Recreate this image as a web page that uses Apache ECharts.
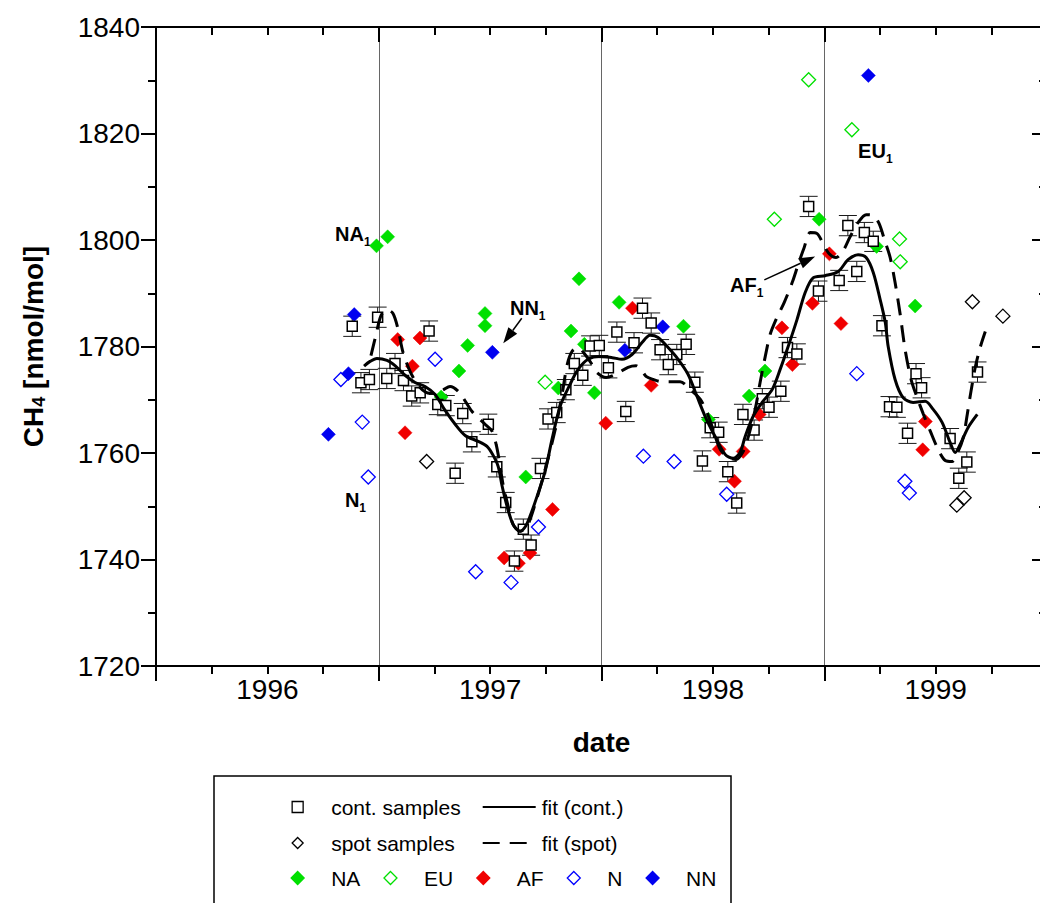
<!DOCTYPE html>
<html><head><meta charset="utf-8">
<script src="https://cdn.jsdelivr.net/npm/echarts@6/dist/echarts.min.js"></script>
<style>html,body{margin:0;padding:0;background:#fff}#c{width:1040px;height:903px}</style>
</head><body><div id="c"></div>
<script>
const X_TICK_LABELS = [1996, 1997, 1998, 1999];

const CONT_X = [1996.381,1996.420,1996.458,1996.495,1996.536,1996.573,1996.611,1996.648,1996.686,1996.726,
  1996.765,1996.801,1996.843,1996.877,1996.918,1996.992,1997.030,1997.070,1997.109,1997.149,
  1997.184,1997.226,1997.260,1997.299,1997.340,1997.378,1997.416,1997.449,1997.490,1997.531,
  1997.569,1997.609,1997.646,1997.684,1997.723,1997.763,1997.800,1997.838,1997.880,1997.919,
  1997.953,1997.988,1998.026,1998.067,1998.107,1998.135,1998.185,1998.222,1998.252,1998.305,
  1998.335,1998.377,1998.430,1998.474,1998.567,1998.606,1998.646,1998.680,1998.720,1998.759,
  1998.793,1998.826,1998.874,1998.912,1998.937,1999.065,1999.104,1999.140,1999.188];
const CONT_Y = [1783.8,1773.2,1773.8,1785.5,1774.0,1776.8,1773.6,1770.7,1771.3,1782.9,
  1769.1,1768.9,1756.2,1767.4,1762.1,1765.4,1757.4,1750.7,1739.7,1745.7,
  1742.7,1757.1,1766.4,1767.6,1771.9,1776.8,1774.6,1780.1,1780.2,1776.0,
  1782.7,1767.8,1780.7,1787.2,1784.4,1779.4,1776.6,1778.5,1780.4,1773.3,
  1758.5,1764.75,1763.9,1756.5,1750.6,1767.25,1764.3,1770.2,1768.6,1771.6,
  1779.8,1778.6,1806.3,1790.4,1792.4,1802.7,1794.1,1801.4,1799.75,1783.9,
  1768.7,1768.6,1763.7,1774.9,1772.25,1762.7,1755.25,1758.3,1775.2];
const CONT_ERR = [1.9,1.9,1.9,1.9,1.9,1.9,1.9,1.9,1.9,1.9,
  1.9,1.9,1.9,1.9,1.9,1.9,1.9,1.9,1.9,1.9,
  1.9,1.9,1.9,1.9,1.9,1.9,1.9,1.9,1.9,1.9,
  1.9,1.9,1.9,1.9,1.9,1.9,1.9,1.9,1.9,1.9,
  1.9,1.9,1.9,1.9,1.9,1.9,1.9,1.9,1.9,1.9,
  1.9,1.9,1.9,1.9,1.9,1.9,1.9,1.9,1.9,1.9,
  1.9,1.9,1.9,1.9,1.9,1.9,1.9,1.9,1.9];

const SPOT = [[1996.715,1758.4],[1999.095,1750.2],[1999.128,1751.6],[1999.165,1788.4],[1999.302,1785.7]];
const NA = [[1996.490,1798.9],[1996.540,1800.6],[1996.780,1770.5],[1996.860,1775.4],[1996.899,1780.2],
  [1996.977,1783.9],[1996.977,1786.2],[1997.160,1755.5],[1997.306,1772.2],[1997.363,1782.9],
  [1997.399,1792.7],[1997.423,1780.4],[1997.468,1771.3],[1997.579,1788.3],[1997.868,1783.8],
  [1997.980,1766.3],[1998.163,1770.7],[1998.234,1775.4],[1998.477,1803.9],[1998.735,1798.8],[1998.908,1787.6]];
const EU = [[1997.247,1773.3],[1998.276,1803.9],[1998.430,1830.1],[1998.624,1820.7],[1998.838,1800.2],[1998.841,1795.9]];
const AF = [[1996.585,1781.3],[1996.618,1763.8],[1996.651,1776.3],[1996.685,1781.6],[1997.063,1740.3],
  [1997.127,1739.3],[1997.179,1741.2],[1997.280,1749.4],[1997.519,1765.6],[1997.639,1787.2],
  [1997.723,1772.7],[1998.028,1760.7],[1998.097,1754.7],[1998.136,1760.3],[1998.208,1767.25],
  [1998.310,1783.5],[1998.357,1776.6],[1998.447,1788.1],[1998.523,1797.4],[1998.575,1784.3],
  [1998.942,1760.6],[1998.954,1765.9]];
const N = [[1996.330,1773.8],[1996.426,1765.8],[1996.453,1755.5],[1996.753,1777.6],[1996.935,1737.7],
  [1997.094,1735.7],[1997.217,1746.1],[1997.688,1759.4],[1997.826,1758.4],[1998.062,1752.25],
  [1998.646,1774.9],[1998.862,1754.7],[1998.882,1752.5]];
const NN = [[1996.274,1763.5],[1996.364,1774.9],[1996.390,1786.0],[1997.010,1778.9],[1997.605,1779.3],
  [1997.775,1783.7],[1998.698,1830.9]];

const FIT_CONT_X = [1996.434,1996.461,1996.492,1996.537,1996.573,1996.618,1996.663,1996.708,1996.753,1996.798,
  1996.843,1996.888,1996.946,1996.986,1997.013,1997.036,1997.054,1997.076,1997.103,1997.134,
  1997.157,1997.179,1997.211,1997.247,1997.278,1997.314,1997.359,1997.395,1997.440,1997.494,
  1997.548,1997.592,1997.637,1997.682,1997.718,1997.754,1997.799,1997.844,1997.889,1997.929,
  1997.965,1998.010,1998.055,1998.091,1998.122,1998.145,1998.181,1998.221,1998.266,1998.302,
  1998.338,1998.378,1998.414,1998.450,1998.504,1998.563,1998.607,1998.652,1998.688,1998.720,
  1998.751,1998.774,1998.787,1998.818,1998.854,1998.899,1998.953,1998.989,1999.029,1999.065,
  1999.088,1999.110,1999.146,1999.187];
const FIT_CONT_Y = [1776.3,1777.2,1777.75,1777.4,1776.4,1774.6,1773.25,1772.5,1771.0,1768.0,
  1765.4,1763.3,1762.2,1761.25,1759.6,1757.5,1753.75,1750.0,1746.6,1745.3,
  1746.1,1748.1,1751.9,1756.6,1762.6,1768.75,1772.9,1775.7,1777.6,1778.1,
  1777.9,1777.6,1778.5,1780.75,1782.1,1781.7,1779.8,1777.6,1774.75,1770.6,
  1766.9,1763.1,1759.75,1759.0,1760.1,1763.1,1766.9,1769.5,1771.9,1775.7,
  1780.0,1785.1,1790.1,1792.9,1793.3,1794.1,1796.3,1797.25,1796.7,1793.9,
  1788.8,1784.5,1780.0,1773.8,1770.4,1769.5,1769.7,1768.2,1765.75,1762.0,
  1760.1,1761.6,1764.8,1767.25];

const FIT_SPOT_X = [1996.465,1996.488,1996.510,1996.537,1996.564,1996.587,1996.609,1996.641,1996.685,1996.730,
  1996.784,1996.820,1996.861,1996.919,1996.977,1997.009,1997.027,1997.040,1997.058,1997.081,
  1997.103,1997.134,1997.166,1997.202,1997.247,1997.292,1997.323,1997.346,1997.368,1997.395,
  1997.426,1997.458,1997.480,1997.521,1997.570,1997.619,1997.655,1997.678,1997.700,1997.732,
  1997.772,1997.808,1997.853,1997.898,1997.943,1997.974,1998.001,1998.033,1998.068,1998.104,
  1998.136,1998.158,1998.190,1998.212,1998.235,1998.257,1998.284,1998.320,1998.356,1998.383,
  1998.410,1998.437,1998.468,1998.495,1998.522,1998.553,1998.585,1998.616,1998.652,1998.688,
  1998.720,1998.746,1998.773,1998.796,1998.818,1998.841,1998.863,1998.890,1998.917,1998.944,
  1998.976,1999.011,1999.043,1999.074,1999.101,1999.124,1999.142,1999.160,1999.178,1999.200,1999.223];
const FIT_SPOT_Y = [1778.3,1782.25,1785.8,1786.9,1786.2,1783.2,1778.9,1775.3,1772.3,1771.2,
  1771.75,1772.5,1771.4,1767.8,1765.4,1764.1,1761.6,1758.8,1754.1,1750.0,
  1746.6,1745.3,1746.25,1750.4,1756.9,1764.4,1771.0,1776.6,1779.1,1779.8,
  1778.5,1776.6,1775.1,1774.2,1774.9,1776.1,1776.4,1775.7,1774.4,1773.8,
  1773.4,1773.4,1773.4,1771.9,1770.1,1767.6,1764.4,1760.7,1759.2,1758.8,
  1760.3,1762.9,1768.2,1773.25,1778.1,1782.25,1785.1,1788.25,1792.0,1795.4,
  1798.6,1801.4,1801.2,1799.3,1797.4,1796.7,1798.0,1800.6,1803.25,1804.75,
  1804.6,1803.1,1799.7,1796.7,1792.0,1786.0,1779.4,1773.8,1770.4,1767.4,
  1764.1,1760.7,1758.6,1758.4,1760.3,1762.9,1767.25,1771.9,1776.1,1779.8,1782.8];

const NOTE_TEXT = ['NA', 'NN', 'N', 'AF', 'EU'];
const NOTE_POS = [[1996.304,1801.2],[1997.089,1787.3],[1996.348,1751.1],[1998.077,1791.6],[1998.652,1816.8]];
const ARROWS = [[1997.142,1785.3,1997.059,1780.6],[1998.231,1792.5,1998.459,1796.9]];

const FONT = "'Liberation Sans', Arial, Helvetica, sans-serif";
const zip = (xs, ys) => xs.map((x, i) => [x, ys[i]]);

function renderErr(params, api) {
  const x = api.value(0), y = api.value(1), e = api.value(2);
  const t = api.coord([x, y + e]), b = api.coord([x, y - e]);
  const hw = 9, st = {stroke: '#1a1a1a', lineWidth: 1};
  return {type: 'group', children: [
    {type: 'line', shape: {x1: t[0], y1: t[1], x2: b[0], y2: b[1]}, style: st},
    {type: 'line', shape: {x1: t[0] - hw, y1: t[1], x2: t[0] + hw, y2: t[1]}, style: st},
    {type: 'line', shape: {x1: b[0] - hw, y1: b[1], x2: b[0] + hw, y2: b[1]}, style: st}
  ]};
}
function renderArrow(params, api) {
  const p1 = api.coord([api.value(0), api.value(1)]);
  const p2 = api.coord([api.value(2), api.value(3)]);
  const dx = p2[0] - p1[0], dy = p2[1] - p1[1], L = Math.hypot(dx, dy);
  const ux = dx / L, uy = dy / L, hl = 16, hw = 5.5;
  const bx = p2[0] - ux * hl, by = p2[1] - uy * hl;
  return {type: 'group', children: [
    {type: 'line', shape: {x1: p1[0], y1: p1[1], x2: bx, y2: by}, style: {stroke: '#000', lineWidth: 1.5}},
    {type: 'polygon', shape: {points: [[p2[0], p2[1]], [bx - uy * hw, by + ux * hw], [bx + uy * hw, by - ux * hw]]}, style: {fill: '#000'}}
  ]};
}
function renderNote(params, api) {
  const p = api.coord([api.value(0), api.value(1)]);
  return {type: 'text', x: p[0], y: p[1], style: {
    text: '{m|' + NOTE_TEXT[params.dataIndex] + '}{s|1}',
    align: 'left', verticalAlign: 'middle',
    rich: {
      m: {fontSize: 20, fontWeight: 'bold', fontFamily: FONT, fill: '#000', lineHeight: 28},
      s: {fontSize: 12, fontWeight: 'bold', fontFamily: FONT, fill: '#000', lineHeight: 12, verticalAlign: 'bottom'}
    }
  }};
}

const chart = echarts.init(document.getElementById('c'), null, {renderer: 'svg', width: 1040, height: 903});
const axisLine = {show: true, lineStyle: {color: '#000', width: 2}};
const legendText = (pad) => ({fontSize: 21, lineHeight: 21, color: '#000', fontFamily: FONT, padding: [0, 0, 0, pad]});
const diamond = (color, hollow) => ({
  type: 'scatter', symbol: 'diamond', symbolSize: 14,
  itemStyle: {color: hollow ? '#fff' : color, borderColor: color, borderWidth: hollow ? 1.3 : 0.5, opacity: 1}
});

const option = {
  animation: false,
  backgroundColor: '#fff',
  textStyle: {fontFamily: FONT},
  grid: {left: 156, top: 27, width: 891, height: 639, containLabel: false, outerBoundsMode: 'none'},
  xAxis: [
    {type: 'value', position: 'bottom', min: 1995.5, max: 1999.5, interval: 1,
     axisLine: axisLine,
     axisTick: {show: true, length: 15, lineStyle: {color: '#000', width: 2}},
     minorTick: {show: true, splitNumber: 4, length: 8, lineStyle: {color: '#000', width: 2}},
     axisLabel: {show: false},
     splitLine: {show: true, lineStyle: {color: '#666', width: 1}},
     name: 'date', nameLocation: 'middle', nameGap: 62,
     nameTextStyle: {fontSize: 28, fontWeight: 'bold', color: '#000', fontFamily: FONT}},
    {type: 'value', position: 'bottom', min: 1995.5, max: 1999.5, interval: 0.5,
     axisLine: {show: false}, axisTick: {show: false}, splitLine: {show: false},
     axisLabel: {show: true, fontSize: 28, color: '#000', fontFamily: FONT, margin: 9,
       formatter: v => X_TICK_LABELS.indexOf(Math.round(v * 100) / 100) >= 0 ? String(Math.round(v)) : ''}},
    {type: 'value', position: 'top', min: 1995.5, max: 1999.5, interval: 1,
     axisLine: axisLine,
     axisTick: {show: true, inside: true, length: 15, lineStyle: {color: '#000', width: 2}},
     minorTick: {show: true, splitNumber: 4, length: 8, lineStyle: {color: '#000', width: 2}},
     axisLabel: {show: false}, splitLine: {show: false}}
  ],
  yAxis: [
    {type: 'value', position: 'left', min: 1720, max: 1840, interval: 20,
     axisLine: axisLine,
     axisTick: {show: true, length: 15, lineStyle: {color: '#000', width: 2}},
     minorTick: {show: true, splitNumber: 2, length: 8, lineStyle: {color: '#000', width: 2}},
     axisLabel: {fontSize: 28, color: '#000', fontFamily: FONT, margin: 16, formatter: v => String(v)},
     splitLine: {show: false},
     name: '{m|CH}{s|4}{m| [nmol/mol]}', nameLocation: 'middle', nameRotate: 90, nameGap: 108,
     nameTextStyle: {rich: {
       m: {fontSize: 28, fontWeight: 'bold', fontFamily: FONT, color: '#000', lineHeight: 30},
       s: {fontSize: 18, fontWeight: 'bold', fontFamily: FONT, color: '#000', lineHeight: 14, verticalAlign: 'bottom'}
     }}},
    {type: 'value', position: 'right', min: 1720, max: 1840, interval: 20,
     axisLine: axisLine,
     axisTick: {show: true, inside: true, length: 15, lineStyle: {color: '#000', width: 2}},
     minorTick: {show: true, splitNumber: 2, length: 8, lineStyle: {color: '#000', width: 2}},
     axisLabel: {show: false}, splitLine: {show: false}}
  ],
  legend: [
    {data: ['cont. samples', 'spot samples'], orient: 'vertical', left: 291.5, top: 796.5,
     itemWidth: 11, itemHeight: 11, itemGap: 15, padding: 0, selectedMode: false, textStyle: legendText(23),
     itemStyle: {borderWidth: 1.3}},
    {data: ['fit (cont.)', 'fit (spot)'], orient: 'vertical', left: 481.7, top: 796.5,
     itemWidth: 53, itemHeight: 12, itemGap: 15, padding: 0, selectedMode: false, textStyle: legendText(1),
     itemStyle: {color: 'rgba(0,0,0,0)', borderWidth: 0, opacity: 0}},
    {data: ['NA', 'EU', 'AF', 'N', 'NN'], orient: 'horizontal', left: 290.5, top: 867.5,
     itemWidth: 13, itemHeight: 13, itemGap: 23, padding: 0, selectedMode: false, textStyle: legendText(22),
     itemStyle: {borderWidth: 1.3}}
  ],
  graphic: [
    {type: 'rect', shape: {x: 214, y: 776, width: 517, height: 160},
     style: {fill: 'none', stroke: '#000', lineWidth: 1.5}, silent: true}
  ],
  series: [
    Object.assign(diamond('#00e000', false), {name: 'NA', data: NA}),
    Object.assign(diamond('#00e000', true), {name: 'EU', data: EU}),
    Object.assign(diamond('#f00000', false), {name: 'AF', data: AF}),
    Object.assign(diamond('#0000ff', true), {name: 'N', data: N}),
    Object.assign(diamond('#0000f0', false), {name: 'NN', data: NN}),
    Object.assign(diamond('#000000', true), {name: 'spot samples', data: SPOT}),
    {type: 'line', name: 'fit (cont.)', data: zip(FIT_CONT_X, FIT_CONT_Y), showSymbol: false, symbol: 'none',
     smooth: 0.3, itemStyle: {color: '#000'}, lineStyle: {color: '#000', width: 3}},
    {type: 'line', name: 'fit (spot)', data: zip(FIT_SPOT_X, FIT_SPOT_Y), showSymbol: false, symbol: 'none',
     smooth: 0.3, itemStyle: {color: '#000'}, lineStyle: {color: '#000', width: 3, type: [17, 10]}},
    {type: 'custom', name: 'errors', renderItem: renderErr, silent: true,
     data: CONT_X.map((x, i) => [x, CONT_Y[i], CONT_ERR[i]]), encode: {x: 0, y: 1}},
    {type: 'scatter', name: 'cont. samples', symbol: 'rect', symbolSize: 10,
     data: zip(CONT_X, CONT_Y),
     itemStyle: {color: '#fff', borderColor: '#000', borderWidth: 1.5, opacity: 1}},
    {type: 'custom', name: 'arrows', renderItem: renderArrow, silent: true,
     data: ARROWS, encode: {x: [0, 2], y: [1, 3]}},
    {type: 'custom', name: 'notes', renderItem: renderNote, silent: true,
     data: NOTE_POS, encode: {x: 0, y: 1}}
  ]
};
chart.setOption(option);
</script>
</body></html>
